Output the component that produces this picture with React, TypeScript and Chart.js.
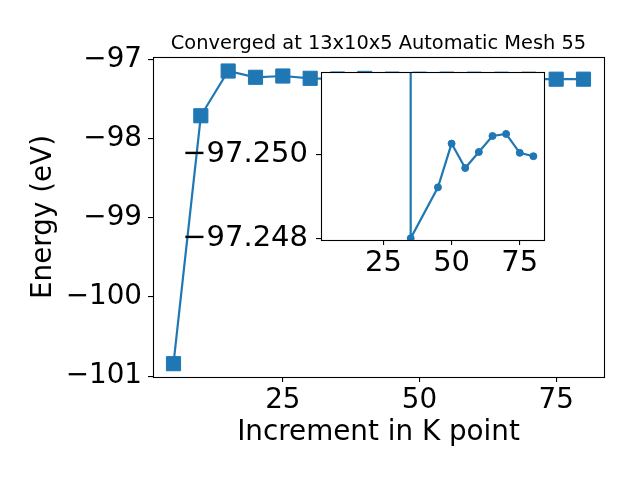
import React, { useEffect, useRef } from "react";
import { Chart, registerables } from "chart.js";

Chart.register(...registerables);

// ---- data ----
const kPoints = [5, 10, 15, 20, 25, 30, 35, 40, 45, 50, 55, 60, 65, 70, 75, 80];
const energies = [
  -100.842, -97.712, -97.147, -97.226, -97.21, -97.239, -97.248, -97.24,
  -97.2492, -97.25025, -97.24967, -97.25005, -97.25043, -97.25048, -97.25003, -97.24995,
];
const insetK = [35, 35, 45, 50, 55, 60, 65, 70, 75, 80];
const insetEnergies = [
  -97.26, -97.248, -97.24921, -97.25025, -97.24967, -97.25005, -97.25043, -97.25048,
  -97.25003, -97.24995,
];
const mainXTicks = [25, 50, 75];
const mainYTicks = [-101, -100, -99, -98, -97];
const insetXTicks = [25, 50, 75];
const insetYTicks = [-97.25, -97.248];

const titleText = "Converged at 13x10x5 Automatic Mesh 55";
const xLabel = "Increment in K point";
const yLabel = "Energy (eV)";

const BLUE = "#1f77b4";
const FONT = "'DejaVu Sans', sans-serif";
const TICK_SIZE = 27.8;
const INSET_TICK_SIZE = 29;

const minus = (s: string) => s.replace("-", "\u2212");

const framePlugin = {
  id: "frame",
  beforeDraw(chart: any, _args: any, opts: any) {
    if (opts && opts.fill) {
      const { ctx, chartArea } = chart;
      ctx.save();
      ctx.fillStyle = "#ffffff";
      ctx.fillRect(chartArea.left, chartArea.top, chartArea.right - chartArea.left, chartArea.bottom - chartArea.top);
      ctx.restore();
    }
  },
  afterDraw(chart: any) {
    const { ctx, chartArea } = chart;
    ctx.save();
    ctx.strokeStyle = "#000";
    ctx.lineWidth = 1.1;
    ctx.strokeRect(
      Math.round(chartArea.left) + 0.5,
      Math.round(chartArea.top) + 0.5,
      Math.round(chartArea.right - chartArea.left),
      Math.round(chartArea.bottom - chartArea.top)
    );
    ctx.restore();
  },
};

const titlePlugin = {
  id: "figTitle",
  afterDraw(chart: any, _args: any, opts: any) {
    if (!opts || !opts.text) return;
    const { ctx, chartArea } = chart;
    ctx.save();
    ctx.font = `19.4px ${FONT}`;
    ctx.fillStyle = "#000";
    ctx.textAlign = "center";
    ctx.textBaseline = "alphabetic";
    ctx.fillText(opts.text, (chartArea.left + chartArea.right) / 2, chartArea.top - 8.5);
    ctx.restore();
  },
};

const tickFont = { family: FONT, size: TICK_SIZE };
const insetTickFont = { family: FONT, size: INSET_TICK_SIZE };
const gridCfg = {
  drawOnChartArea: false,
  drawTicks: true,
  tickLength: 5,
  color: "#000",
  lineWidth: 1.1,
};

export default function App() {
  const mainRef = useRef<HTMLCanvasElement>(null);
  const insetRef = useRef<HTMLCanvasElement>(null);

  useEffect(() => {
    document.body.style.margin = "0";
    const main = new Chart(mainRef.current as HTMLCanvasElement, {
      type: "line",
      data: {
        datasets: [
          {
            data: kPoints.map((x, i) => ({ x, y: energies[i] })),
            borderColor: BLUE,
            backgroundColor: BLUE,
            borderWidth: 2.2,
            pointStyle: "rect",
            pointRadius: 10,
            pointBorderWidth: 1,
            pointBackgroundColor: BLUE,
            pointBorderColor: BLUE,
          },
        ],
      },
      options: {
        animation: false,
        responsive: false,
        events: [],
        layout: { padding: { left: 0, right: 36, top: 57, bottom: 0 } },
        plugins: {
          legend: { display: false },
          tooltip: { enabled: false },
          figTitle: { text: titleText },
          frame: { fill: false },
        } as any,
        scales: {
          x: {
            type: "linear",
            min: 1.25,
            max: 83.75,
            border: { display: false },
            grid: gridCfg,
            afterBuildTicks: (s: any) => {
              s.ticks = mainXTicks.map((v) => ({ value: v }));
            },
            afterFit: (s: any) => {
              s.height = 103;
            },
            ticks: {
              font: tickFont,
              color: "#000",
              padding: 2,
              maxRotation: 0,
              autoSkip: false,
              callback: (v: any) => minus(String(v)),
            },
            title: {
              display: true,
              text: xLabel,
              font: tickFont,
              color: "#000",
              padding: { top: 0, bottom: 31 },
            },
          },
          y: {
            type: "linear",
            min: -101.01,
            max: -96.97,
            border: { display: false },
            grid: gridCfg,
            afterBuildTicks: (s: any) => {
              s.ticks = mainYTicks.map((v) => ({ value: v }));
            },
            afterFit: (s: any) => {
              s.width = 153;
            },
            ticks: {
              font: tickFont,
              color: "#000",
              padding: 6,
              autoSkip: false,
              callback: (v: any) => minus(String(Math.round(v))),
            },
            title: {
              display: true,
              text: yLabel,
              font: tickFont,
              color: "#000",
              padding: { top: 27, bottom: 0 },
            },
          },
        },
      } as any,
      plugins: [framePlugin, titlePlugin],
    });

    const inset = new Chart(insetRef.current as HTMLCanvasElement, {
      type: "line",
      data: {
        datasets: [
          {
            data: insetK.map((x, i) => ({ x, y: insetEnergies[i] })),
            borderColor: BLUE,
            backgroundColor: BLUE,
            borderWidth: 2.2,
            pointStyle: "circle",
            pointRadius: insetK.map((_, i) => (i === 0 ? 0 : 3.5)),
            pointBorderWidth: 1,
            pointBackgroundColor: BLUE,
            pointBorderColor: BLUE,
            clip: 0,
          } as any,
        ],
      },
      options: {
        animation: false,
        responsive: false,
        events: [],
        layout: { padding: { left: 171, right: 96, top: 72, bottom: 190 } },
        plugins: {
          legend: { display: false },
          tooltip: { enabled: false },
          frame: { fill: true },
        } as any,
        scales: {
          x: {
            type: "linear",
            min: 2.1,
            max: 83.9,
            border: { display: false },
            grid: gridCfg,
            afterBuildTicks: (s: any) => {
              s.ticks = insetXTicks.map((v) => ({ value: v }));
            },
            afterFit: (s: any) => {
              s.height = 50;
            },
            ticks: {
              font: insetTickFont,
              color: "#000",
              padding: 1,
              maxRotation: 0,
              autoSkip: false,
              callback: (v: any) => minus(String(v)),
            },
          },
          y: {
            type: "linear",
            reverse: true,
            min: -97.25195,
            max: -97.24796,
            border: { display: false },
            grid: gridCfg,
            afterBuildTicks: (s: any) => {
              s.ticks = insetYTicks.map((v) => ({ value: v }));
            },
            afterFit: (s: any) => {
              s.width = 150;
            },
            ticks: {
              font: insetTickFont,
              color: "#000",
              padding: 8,
              autoSkip: false,
              callback: (v: any) => minus(Number(v).toFixed(3)),
            },
          },
        },
      } as any,
      plugins: [framePlugin],
    });

    return () => {
      main.destroy();
      inset.destroy();
    };
  }, []);

  return (
    <div style={{ position: "absolute", left: 0, top: 0, width: 640, height: 480, background: "#fff" }}>
      <canvas ref={mainRef} width={640} height={480} style={{ position: "absolute", left: 0, top: 0 }} />
      <canvas ref={insetRef} width={640} height={480} style={{ position: "absolute", left: 0, top: 0 }} />
    </div>
  );
}
